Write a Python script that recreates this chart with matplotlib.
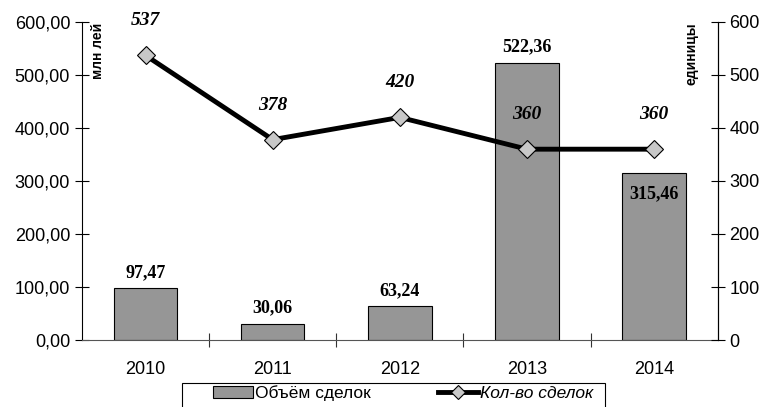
import matplotlib.pyplot as plt
from matplotlib.lines import Line2D
from matplotlib.patches import Patch, Rectangle

# Data
years = ['2010', '2011', '2012', '2013', '2014']
volume = [97.47, 30.06, 63.24, 522.36, 315.46]
deals = [537, 378, 420, 360, 360]

def comma(v, nd=2):
    return f'{v:.{nd}f}'.replace('.', ',')

plt.rcParams['font.family'] = ['Liberation Sans', 'DejaVu Sans']

fig = plt.figure(figsize=(7.66, 4.07), dpi=100)
ax1 = fig.add_axes([0.107, 0.1646, 0.830, 0.7814])
ax2 = ax1.twinx()

x = range(len(years))
ax1.bar(x, volume, width=0.5, color='#969696', edgecolor='black', linewidth=0.8, zorder=2)
ax1.set_xlim(-0.5, 4.5)
ax1.set_ylim(0, 600)
ax1.set_yticks(range(0, 601, 100))
ax1.set_yticklabels([comma(v) for v in range(0, 601, 100)])
ax1.set_xticks(list(x))
ax1.set_xticklabels(years)
ax1.set_xticks([i + 0.5 for i in range(len(years) - 1)], minor=True)

ax2.plot(x, deals, color='black', lw=3.5, marker='D', ms=9, mfc='#c8c8c8',
         mec='black', mew=0.8, zorder=3)
ax2.set_ylim(0, 600)
ax2.set_yticks(range(0, 601, 100))

for a in (ax1, ax2):
    a.spines['top'].set_visible(False)
    a.tick_params(axis='y', direction='inout', length=10, width=0.8, labelsize=13)
    a.tick_params(axis='x', length=0, labelsize=13, pad=15)
ax1.tick_params(axis='x', which='minor', direction='inout', length=10,
                width=0.8, color='#333333')
ax1.spines['left'].set_linewidth(0.8)
ax1.spines['bottom'].set_linewidth(0.8)
ax1.spines['bottom'].set_color('#555555')
ax2.spines['bottom'].set_visible(False)
ax2.spines['right'].set_linewidth(0.8)
ax2.spines['left'].set_visible(False)

# bar labels
serif = 'Liberation Serif'
for i, v in enumerate(volume):
    if i == 4:
        ax1.text(i, v - 40, comma(v), ha='center', va='center', fontsize=13,
                 fontweight='bold', family=serif, zorder=5)
    else:
        ax1.text(i, v + 30, comma(v), ha='center', va='center', fontsize=13,
                 fontweight='bold', family=serif, zorder=5)

# line labels
for i, v in enumerate(deals):
    ax2.text(i, v + 65, str(v), ha='center', va='center', fontsize=14,
             fontweight='bold', fontstyle='italic', family=serif, zorder=5)

fig.text(0.128, 0.945, 'млн лей', rotation=90, ha='center', va='top',
         fontsize=10, fontweight='bold')
fig.text(0.903, 0.945, 'единицы', rotation=90, ha='center', va='top',
         fontsize=10, fontweight='bold')

# legend with a wider frame drawn separately
fig.patches.append(Rectangle((0.2376, -0.01), 0.5522, 0.069, transform=fig.transFigure,
                             facecolor='white', edgecolor='black', linewidth=0.8))
handles = [Patch(facecolor='#969696', edgecolor='black', linewidth=0.8),
           Line2D([0], [0], color='black', lw=3.5, marker='D', ms=7,
                  mfc='#c8c8c8', mec='black', mew=0.8)]
leg = fig.legend(handles, ['Объём сделок', 'Кол-во сделок'], ncol=2,
                 loc='upper left', bbox_to_anchor=(0.276, 0.057),
                 borderaxespad=0, frameon=False, fontsize=12.5,
                 handlelength=2.3, columnspacing=3.9, borderpad=0.1,
                 handletextpad=0.1)
leg.get_texts()[1].set_fontstyle('italic')

fig.savefig('out.png', dpi=100)
